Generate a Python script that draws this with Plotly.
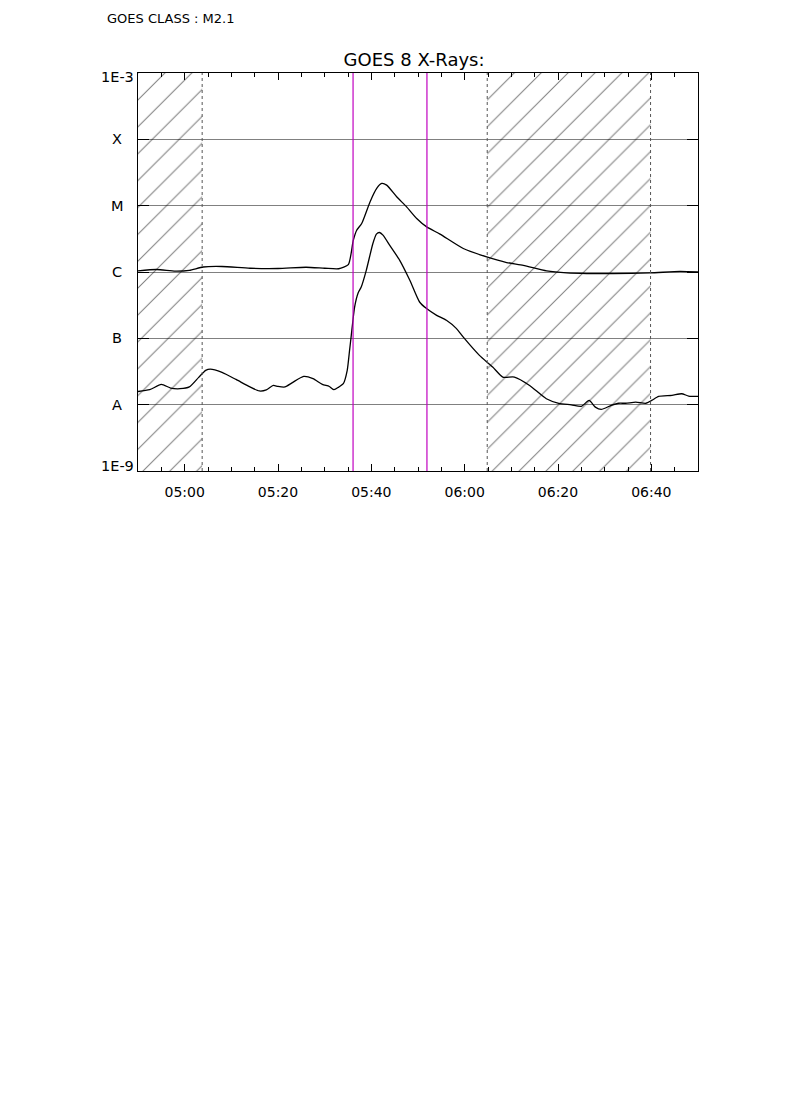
import plotly.graph_objects as go

DAY = "2000-01-01 "

# Long channel (1-8 A) flux, W/m^2
long_times = ["04:50:00", "04:54:00", "04:58:00", "05:01:00", "05:04:00", "05:08:00", "05:14:00",
              "05:20:00", "05:26:00", "05:30:00", "05:33:00", "05:35:04", "05:36:08", "05:36:52",
              "05:37:56", "05:39:43", "05:41:09", "05:42:13", "05:43:17", "05:45:26", "05:47:34",
              "05:49:43", "05:51:52", "05:54:43", "05:59:42", "06:04:43", "06:09:00", "06:12:34",
              "06:17:34", "06:21:52", "06:26:08", "06:31:50", "06:39:42", "06:46:08", "06:50:00"]
long_flux = [1.04e-6, 1.09e-6, 1.03e-6, 1.06e-6, 1.19e-6, 1.21e-6, 1.14e-6,
             1.13e-6, 1.18e-6, 1.14e-6, 1.12e-6, 1.29e-6, 3.01e-6, 4.27e-6,
             5.38e-6, 1.14e-5, 1.82e-5, 2.16e-5, 2.04e-5, 1.36e-5, 9.59e-6,
             6.41e-6, 4.79e-6, 3.72e-6, 2.26e-6, 1.69e-6, 1.39e-6, 1.26e-6,
             1.04e-6, 9.68e-7, 9.48e-7, 9.48e-7, 9.68e-7, 1.02e-6, 1.00e-6]

# Short channel (0.5-4 A) flux, W/m^2
short_times = ["04:50:00", "04:52:30", "04:55:00", "04:57:00", "04:59:00", "05:01:00", "05:03:00",
               "05:04:30", "05:05:30", "05:08:00", "05:11:00", "05:14:00", "05:16:00", "05:17:30",
               "05:19:00", "05:20:00", "05:21:30", "05:23:00", "05:25:30", "05:27:30", "05:29:30",
               "05:31:00", "05:32:00", "05:33:00", "05:34:00", "05:34:50", "05:35:20", "05:35:40",
               "05:36:25", "05:37:10", "05:37:50", "05:38:55", "05:40:20", "05:41:05", "05:41:45",
               "05:42:30", "05:43:55", "05:46:05", "05:48:15", "05:50:20", "05:51:50", "05:54:00",
               "05:56:05", "05:58:15", "05:59:40", "06:03:10", "06:06:00", "06:08:10", "06:10:40",
               "06:13:55", "06:17:30", "06:20:10", "06:22:50", "06:25:00", "06:26:40", "06:28:00",
               "06:29:15", "06:31:25", "06:33:00", "06:34:30", "06:36:40", "06:38:50", "06:40:05",
               "06:41:35", "06:44:25", "06:46:30", "06:48:00", "06:50:00"]
short_flux = [1.58e-8, 1.68e-8, 2.02e-8, 1.78e-8, 1.74e-8, 1.85e-8, 2.58e-8,
              3.29e-8, 3.44e-8, 3.07e-8, 2.40e-8, 1.85e-8, 1.61e-8, 1.67e-8,
              1.95e-8, 1.88e-8, 1.85e-8, 2.13e-8, 2.67e-8, 2.47e-8, 2.02e-8,
              1.88e-8, 1.68e-8, 1.84e-8, 2.07e-8, 3.29e-8, 6.59e-8, 1.05e-7,
              2.96e-7, 4.83e-7, 5.94e-7, 1.06e-6, 2.69e-6, 3.72e-6, 3.94e-6,
              3.59e-6, 2.54e-6, 1.50e-6, 7.50e-7, 3.53e-7, 2.81e-7, 2.22e-7,
              1.87e-7, 1.40e-7, 1.05e-7, 5.53e-8, 3.69e-8, 2.61e-8, 2.61e-8,
              1.95e-8, 1.23e-8, 1.05e-8, 9.96e-9, 9.42e-9, 1.16e-8, 9.18e-9,
              8.47e-9, 9.75e-9, 1.05e-8, 1.05e-8, 1.09e-8, 1.05e-8, 1.16e-8,
              1.33e-8, 1.38e-8, 1.46e-8, 1.35e-8, 1.33e-8]

# Hatched (no-data / night) intervals and flare markers
hatch_starts = ["04:50:00", "06:04:50"]
hatch_ends = ["05:03:45", "06:39:50"]
dotted_lines = ["05:03:45", "06:04:50", "06:39:50"]
flare_lines = ["05:36:05", "05:51:55"]

# Axis labels
y_tickvals = [1e-9, 1e-8, 1e-7, 1e-6, 1e-5, 1e-4, 1e-3]
y_ticktext = ["1E-9", "A", "B", "C", "M", "X", "1E-3"]
x_start, x_end = "04:50:00", "06:50:00"

FONT = "DejaVu Sans"

fig = go.Figure()

for s, e in zip(hatch_starts, hatch_ends):
    fig.add_trace(go.Scatter(
        x=[DAY + s, DAY + s, DAY + e, DAY + e, DAY + s],
        y=[1e-9, 1e-3, 1e-3, 1e-9, 1e-9],
        mode="lines", line=dict(width=0, color="rgba(0,0,0,0)"),
        fill="toself", fillcolor="rgba(0,0,0,0)",
        fillpattern=dict(shape="/", size=19, solidity=0.055, fgcolor="black",
                         bgcolor="rgba(0,0,0,0)"),
        hoverinfo="skip", showlegend=False))

fig.add_trace(go.Scatter(x=[DAY + t for t in long_times], y=long_flux, mode="lines",
                         line=dict(color="black", width=1.3, shape="spline", smoothing=0.6),
                         showlegend=False, name="1-8 A"))
fig.add_trace(go.Scatter(x=[DAY + t for t in short_times], y=short_flux, mode="lines",
                         line=dict(color="black", width=1.3, shape="spline", smoothing=0.6),
                         showlegend=False, name="0.5-4 A"))

for t in dotted_lines:
    fig.add_shape(type="line", xref="x", yref="y domain", x0=DAY + t, x1=DAY + t, y0=0, y1=1,
                  line=dict(color="#555555", width=1, dash="dot"))
for t in flare_lines:
    fig.add_shape(type="line", xref="x", yref="y domain", x0=DAY + t, x1=DAY + t, y0=0, y1=1,
                  line=dict(color="#c000c0", width=1.2))

# Y labels centred like the original
y_label_pos = [-8.93, -8, -7, -6, -5, -4, -3.06]
for lbl, yp in zip(y_ticktext, y_label_pos):
    fig.add_annotation(text=lbl, xref="paper", yref="y", x=-0.0375, y=yp,
                       xanchor="center", yanchor="middle", showarrow=False,
                       font=dict(family=FONT, size=14.5, color="black"))

fig.add_annotation(text="GOES CLASS : M2.1", xref="paper", yref="paper",
                   x=-0.0589, y=1.137, xanchor="left", yanchor="middle", showarrow=False,
                   font=dict(family=FONT, size=13, color="black"))

fig.update_layout(
    width=790, height=1118,
    margin=dict(l=130, r=100, t=65, b=655),
    paper_bgcolor="white", plot_bgcolor="white",
    title=dict(text="GOES 8 X-Rays:", x=0.493, xref="paper", xanchor="center",
               y=1 - 51.5 / 1118, yref="container", yanchor="middle",
               font=dict(family=FONT, size=18, color="black")),
    showlegend=False,
)
fig.update_xaxes(
    type="date", range=[DAY + x_start, DAY + x_end],
    tick0=DAY + "05:00:00", dtick=20 * 60 * 1000, tickformat="%H:%M",
    ticks="inside", ticklen=7, tickcolor="black", tickwidth=1,
    minor=dict(ticks="inside", ticklen=4, dtick=5 * 60 * 1000, tickcolor="black", showgrid=False),
    showline=True, linecolor="black", linewidth=1, mirror="ticks",
    showgrid=False, zeroline=False, ticklabelstandoff=8,
    tickfont=dict(family=FONT, size=14, color="black"),
)
fig.update_yaxes(
    type="log", range=[-9, -3], tickvals=y_tickvals, ticktext=y_ticktext,
    showticklabels=False,
    ticks="inside", ticklen=11, tickcolor="black", tickwidth=1,
    showline=True, linecolor="black", linewidth=1, mirror="ticks",
    showgrid=True, gridcolor="#808080", gridwidth=1, zeroline=False,
)

fig.write_html("out.html")
